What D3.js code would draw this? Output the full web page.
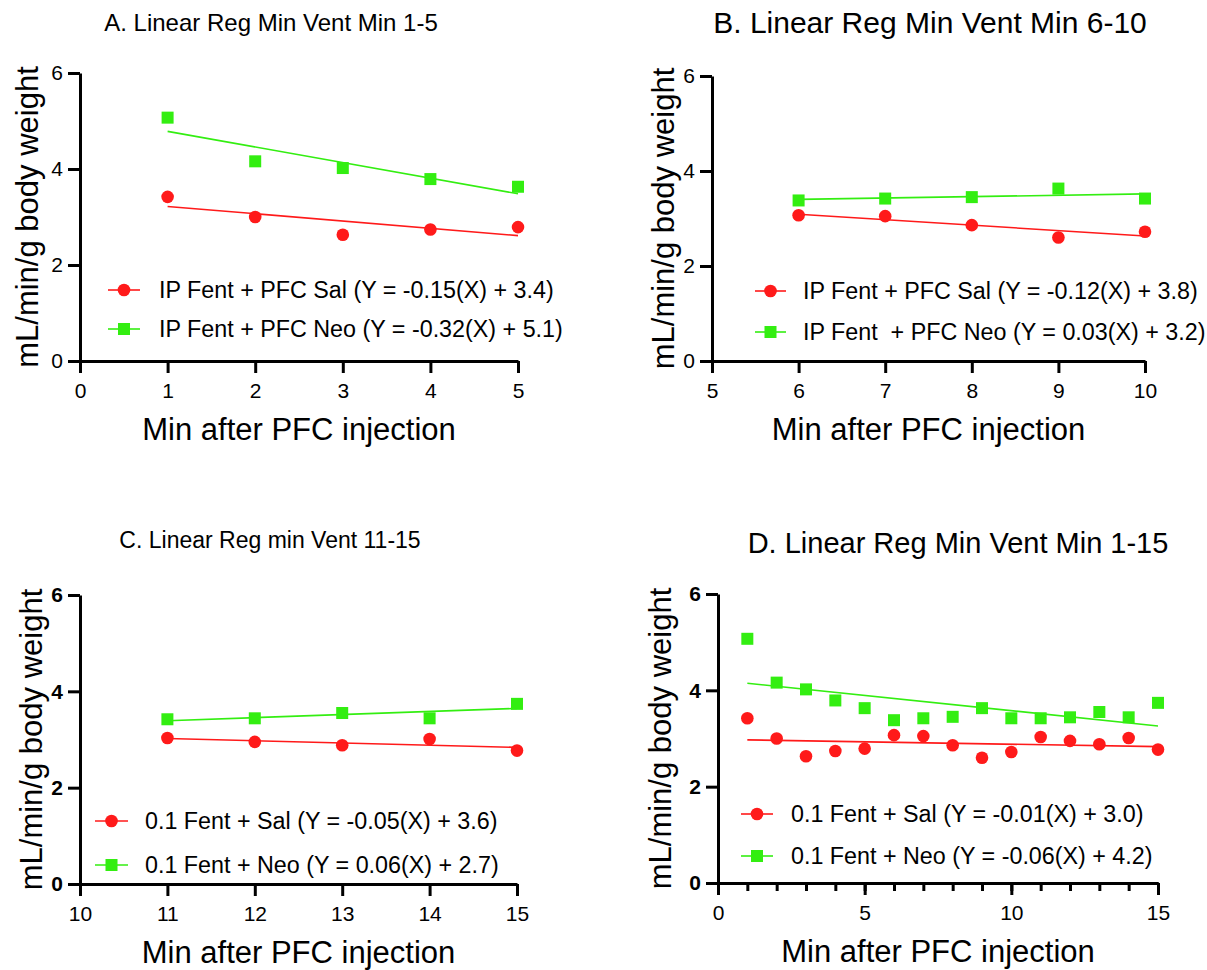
<!DOCTYPE html>
<html lang="en">
<head>
<meta charset="UTF-8">
<title>Linear Reg Min Vent</title>
<script src="https://cdn.jsdelivr.net/npm/d3@7"></script>
<style>
  body { margin: 0; background: #fff; }
  svg { font-family: "Liberation Sans", Arial, sans-serif; }
  .axis path, .axis line { stroke: #000; stroke-width: 3px; }
  .axis text { font-size: 21px; fill: #000; font-family: "Liberation Sans", Arial, sans-serif; }
  .axis.bold text { font-weight: bold; }
  .axis-label { font-size: 31px; }
  .legend text { font-size: 23.3px; white-space: pre; }
</style>
</head>
<body>
<svg id="chart" width="1207" height="970"></svg>
<script>
// minute after PFC injection and ventilation (mL/min/g body weight)
const minutes = [1, 2, 3, 4, 5, 6, 7, 8, 9, 10, 11, 12, 13, 14, 15];
const salVent = [3.42, 3.00, 2.63, 2.74, 2.79, 3.07, 3.05, 2.86, 2.60, 2.72, 3.03, 2.95, 2.88, 3.01, 2.77];
const neoVent = [5.07, 4.16, 4.02, 3.79, 3.63, 3.38, 3.42, 3.45, 3.63, 3.42, 3.42, 3.44, 3.55, 3.44, 3.74];

const panelTitles = [
  "A. Linear Reg Min Vent Min 1-5",
  "B. Linear Reg Min Vent Min 6-10",
  "C. Linear Reg min Vent 11-15",
  "D. Linear Reg Min Vent Min 1-15"
];
const salLabels = [
  "IP Fent + PFC Sal (Y = -0.15(X) + 3.4)",
  "IP Fent + PFC Sal (Y = -0.12(X) + 3.8)",
  "0.1 Fent + Sal (Y = -0.05(X) + 3.6)",
  "0.1 Fent + Sal (Y = -0.01(X) + 3.0)"
];
const neoLabels = [
  "IP Fent + PFC Neo (Y = -0.32(X) + 5.1)",
  "IP Fent  + PFC Neo (Y = 0.03(X) + 3.2)",
  "0.1 Fent + Neo (Y = 0.06(X) + 2.7)",
  "0.1 Fent + Neo (Y = -0.06(X) + 4.2)"
];
const panelRanges = [[1, 5], [6, 10], [11, 15], [1, 15]];
const xTickValues = [[0, 1, 2, 3, 4, 5], [5, 6, 7, 8, 9, 10], [10, 11, 12, 13, 14, 15], [0, 5, 10, 15]];
const yTickValues = [0, 2, 4, 6];
const xLabel = "Min after PFC injection";
const yLabel = "mL/min/g body weight";

const red = "#ff1a1a";
const green = "#33ee11";

// where each panel sits on the page
const layout = [
  { left: 80, right: 518, top: 73, bottom: 361, titleX: 271, titleY: 31, titleSize: 24, yLabelX: 38, legY: [290, 329], legLine: [108, 140], legText: 159, bold: false, minor: false },
  { left: 712, right: 1145, top: 76, bottom: 361, titleX: 930, titleY: 33, titleSize: 30, yLabelX: 674, legY: [291, 332], legLine: [755, 786], legText: 803, bold: false, minor: false },
  { left: 80, right: 517, top: 595, bottom: 884, titleX: 270, titleY: 548, titleSize: 23, yLabelX: 42, legY: [821, 865], legLine: [95, 128], legText: 145, bold: true, minor: false },
  { left: 718, right: 1158, top: 594, bottom: 883, titleX: 958, titleY: 553, titleSize: 29, yLabelX: 671, legY: [814, 856], legLine: [741, 773], legText: 791, bold: true, minor: true }
];

function fitLine(pts) {
  const mx = d3.mean(pts, d => d[0]), my = d3.mean(pts, d => d[1]);
  const sxy = d3.sum(pts, d => (d[0] - mx) * (d[1] - my));
  const sxx = d3.sum(pts, d => (d[0] - mx) ** 2);
  const slope = sxy / sxx;
  return x => my + slope * (x - mx);
}

const svg = d3.select("#chart");
const fmt = d3.format("d");

layout.forEach((L, i) => {
  const g = svg.append("g");
  const ticks = xTickValues[i];
  const x = d3.scaleLinear().domain([ticks[0], ticks[ticks.length - 1]]).range([L.left, L.right]);
  const y = d3.scaleLinear().domain([0, 6]).range([L.bottom, L.top]);

  const [lo, hi] = panelRanges[i];
  const idx = minutes.map((m, k) => k).filter(k => minutes[k] >= lo && minutes[k] <= hi);
  const sal = idx.map(k => [minutes[k], salVent[k]]);
  const neo = idx.map(k => [minutes[k], neoVent[k]]);

  // axes
  if (L.minor) {
    g.append("g")
      .attr("class", "axis")
      .attr("transform", `translate(0,${L.bottom})`)
      .call(d3.axisBottom(x).tickValues(minutes).tickSize(8).tickSizeOuter(0).tickFormat(""));
  }
  g.append("g")
    .attr("class", "axis")
    .attr("transform", `translate(0,${L.bottom})`)
    .call(d3.axisBottom(x).tickValues(ticks).tickSize(12).tickSizeOuter(0).tickPadding(10).tickFormat(fmt));

  g.append("g")
    .attr("class", "axis" + (L.bold ? " bold" : ""))
    .attr("transform", `translate(${L.left},0)`)
    .call(d3.axisLeft(y).tickValues(yTickValues).tickSize(12).tickSizeOuter(0).tickPadding(5).tickFormat(fmt));

  // regression lines
  [[sal, red], [neo, green]].forEach(([pts, col]) => {
    const f = fitLine(pts);
    g.append("line")
      .attr("x1", x(lo)).attr("y1", y(f(lo)))
      .attr("x2", x(hi)).attr("y2", y(f(hi)))
      .attr("stroke", col).attr("stroke-width", 1.6);
  });

  // points
  g.selectAll(".sal").data(sal).join("circle")
    .attr("cx", d => x(d[0])).attr("cy", d => y(d[1]))
    .attr("r", 6.3).attr("fill", red);
  g.selectAll(".neo").data(neo).join("rect")
    .attr("x", d => x(d[0]) - 6).attr("y", d => y(d[1]) - 6)
    .attr("width", 12).attr("height", 12).attr("fill", green);

  // titles and axis labels
  g.append("text")
    .attr("x", L.titleX).attr("y", L.titleY)
    .attr("font-size", L.titleSize)
    .attr("text-anchor", "middle").text(panelTitles[i]);
  g.append("text").attr("class", "axis-label")
    .attr("x", (L.left + L.right) / 2).attr("y", L.bottom + 79)
    .attr("text-anchor", "middle").text(xLabel);
  g.append("text").attr("class", "axis-label")
    .attr("transform", `translate(${L.yLabelX},${(L.top + L.bottom) / 2}) rotate(-90)`)
    .attr("text-anchor", "middle").text(yLabel);

  // legend
  const leg = g.append("g").attr("class", "legend");
  const mid = (L.legLine[0] + L.legLine[1]) / 2;
  [[salLabels[i], red, "circle"], [neoLabels[i], green, "square"]].forEach(([label, col, shape], r) => {
    const ly = L.legY[r];
    leg.append("line")
      .attr("x1", L.legLine[0]).attr("x2", L.legLine[1])
      .attr("y1", ly).attr("y2", ly)
      .attr("stroke", col).attr("stroke-width", 1.6);
    if (shape === "circle") {
      leg.append("circle").attr("cx", mid).attr("cy", ly).attr("r", 6.3).attr("fill", col);
    } else {
      leg.append("rect").attr("x", mid - 6).attr("y", ly - 6)
        .attr("width", 12).attr("height", 12).attr("fill", col);
    }
    leg.append("text")
      .attr("x", L.legText).attr("y", ly).attr("dy", "0.35em")
      .text(label);
  });
});
</script>
</body>
</html>
